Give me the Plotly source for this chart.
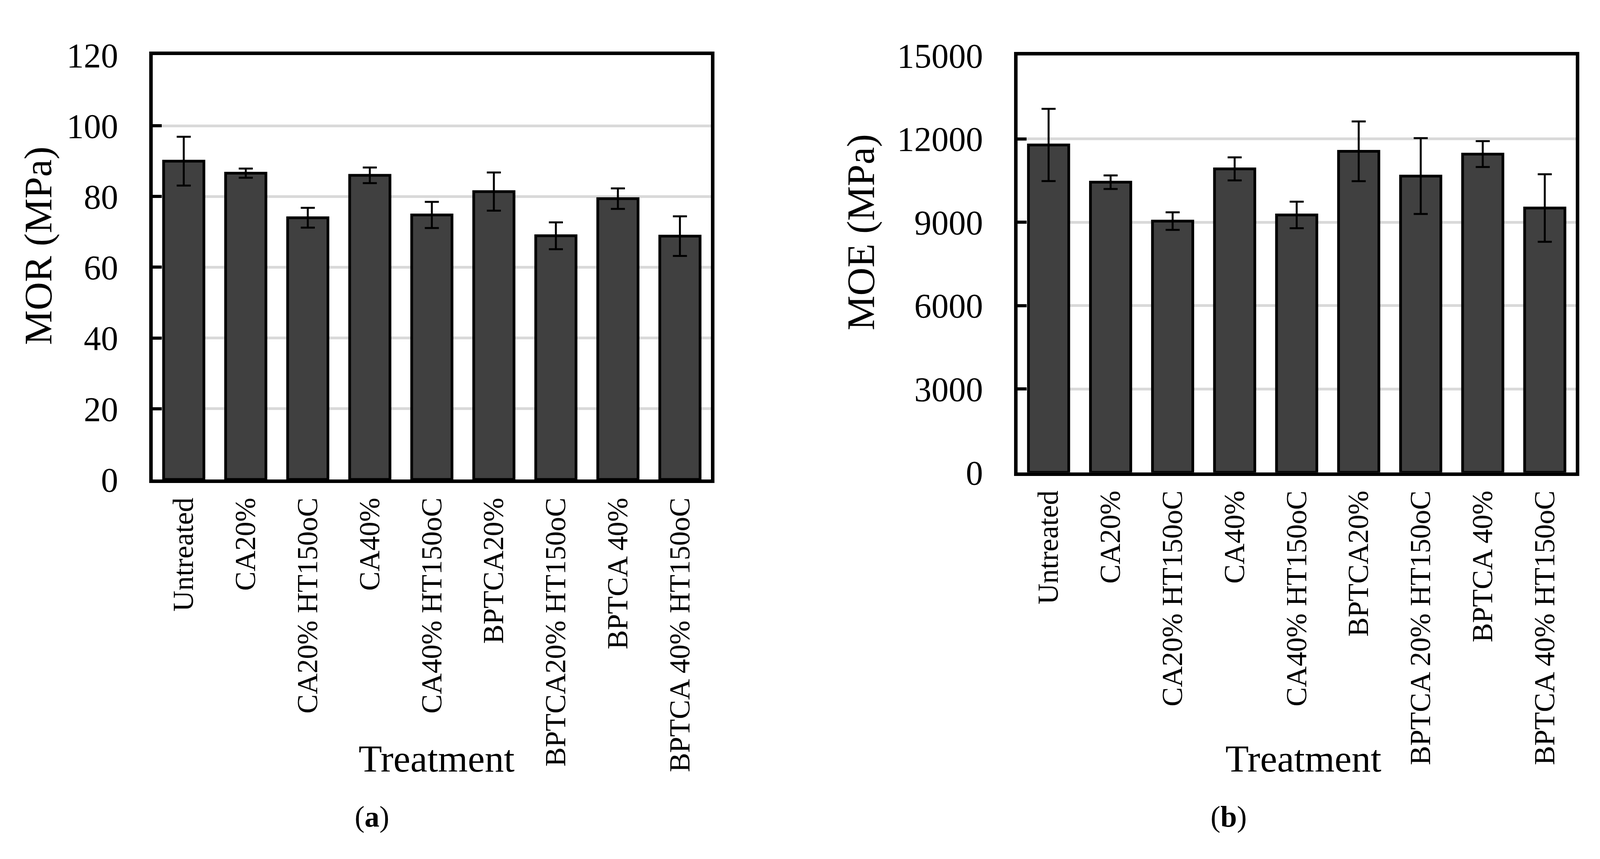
import plotly.graph_objects as go

# ---------------- data ----------------
cats_a = ["Untreated", "CA20%", "CA20% HT150oC", "CA40%", "CA40% HT150oC",
          "BPTCA20%", "BPTCA20% HT150oC", "BPTCA 40%", "BPTCA 40% HT150oC"]
mor_mean = [90.0, 86.6, 74.0, 86.0, 74.8, 81.4, 68.9, 79.4, 68.8]
mor_err = [6.9, 1.3, 2.8, 2.2, 3.7, 5.4, 3.8, 2.9, 5.6]

cats_b = ["Untreated", "CA20%", "CA20% HT150oC", "CA40%", "CA40% HT150oC",
          "BPTCA20%", "BPTCA 20% HT150oC", "BPTCA 40%", "BPTCA 40% HT150oC"]
moe_mean = [11780, 10440, 9040, 10920, 9260, 11550, 10660, 11450, 9510]
moe_err = [1300, 245, 315, 415, 478, 1075, 1365, 466, 1215]

mor_ticks = [0, 20, 40, 60, 80, 100, 120]
mor_ticktext = ["0", "20", "40", "60", "80", "100", "120"]
moe_ticks = [0, 3000, 6000, 9000, 12000, 15000]
moe_ticktext = ["0", "3000", "6000", "9000", "12000", "15000"]

W, H = 4120, 2200
FONT = "Liberation Serif"
BAR = "#404040"
GRID = "#d9d9d9"

fig = go.Figure()
fig.add_trace(go.Bar(
    x=cats_a, y=mor_mean, xaxis="x", yaxis="y",
    marker=dict(color=BAR, line=dict(color="black", width=7)),
    error_y=dict(type="data", array=mor_err, visible=True, color="black",
                 thickness=5, width=18),
    showlegend=False))
fig.add_trace(go.Bar(
    x=cats_b, y=moe_mean, xaxis="x2", yaxis="y2",
    marker=dict(color=BAR, line=dict(color="black", width=7)),
    error_y=dict(type="data", array=moe_err, visible=True, color="black",
                 thickness=5, width=18),
    showlegend=False))

def xax(domain, anchor):
    return dict(domain=domain, anchor=anchor, type="category",
                showline=True, linecolor="black", linewidth=9, mirror=True,
                ticks="", showgrid=False, tickangle=-90,
                tickfont=dict(family=FONT, size=74, color="black"),
                ticklabelstandoff=8)

def yax(domain, anchor, rng, tv, tt):
    return dict(domain=domain, anchor=anchor, range=rng, tickvals=tv, ticktext=tt,
                showline=True, linecolor="black", linewidth=9, mirror=True,
                ticks="inside", ticklen=23, tickwidth=8, tickcolor="black",
                showgrid=True, gridcolor=GRID, gridwidth=7, zeroline=False,
                tickfont=dict(family=FONT, size=88, color="black"),
                ticklabelstandoff=62)

fig.update_layout(
    width=W, height=H, paper_bgcolor="white", plot_bgcolor="white",
    margin=dict(l=0, r=0, t=0, b=0), bargap=0.35,
    xaxis=xax([383 / W, 1812 / W], "y"),
    yaxis=yax([1 - 1227 / H, 1 - 90 / H], "x", [0, 120], mor_ticks, mor_ticktext),
    xaxis2=xax([2597 / W, 4026 / W], "y2"),
    yaxis2=yax([1 - 1208 / H, 1 - 91 / H], "x2", [0, 15000], moe_ticks, moe_ticktext),
)

ann = [
    dict(text="MOR (MPa)", x=90 / W, y=1 - 601 / H, textangle=-90, size=100),
    dict(text="MOE (MPa)", x=2195 / W, y=1 - 565 / H, textangle=-90, size=100),
    dict(text="Treatment", x=1109 / W, y=1 - 1975 / H, textangle=0, size=98),
    dict(text="Treatment", x=3328 / W, y=1 - 1975 / H, textangle=0, size=98),
    dict(text="(<b>a</b>)", x=944 / W, y=1 - 2130 / H, textangle=0, size=76),
    dict(text="(<b>b</b>)", x=3137 / W, y=1 - 2130 / H, textangle=0, size=76),
]
for a in ann:
    fig.add_annotation(text=a["text"], x=a["x"], y=a["y"], xref="paper", yref="paper",
                       xanchor="center", yanchor="middle", showarrow=False,
                       textangle=a["textangle"],
                       font=dict(family=FONT, size=a["size"], color="black"))

fig.write_html("out.html")
